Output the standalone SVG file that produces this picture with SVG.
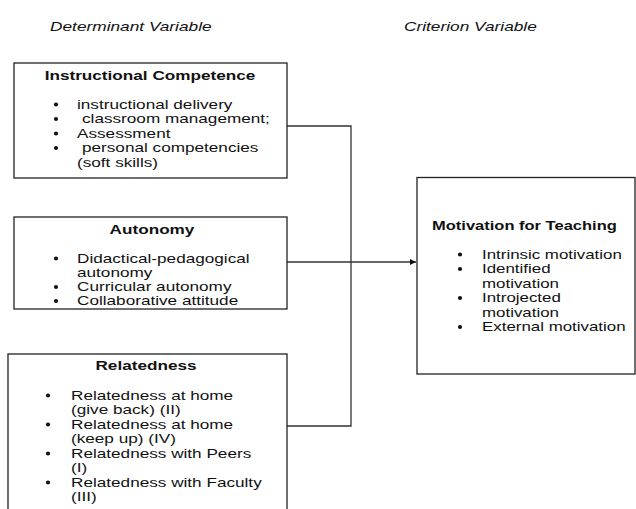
<svg xmlns="http://www.w3.org/2000/svg" width="636" height="509" viewBox="0 0 636 509">
<style>
.bx{fill:#fff;stroke:#222;stroke-width:1.3}
.ln{fill:none;stroke:#333;stroke-width:1.3}
text{font-family:"Liberation Sans",Arial,sans-serif;font-size:13px;fill:#111}
.h{font-style:italic}
.b{font-weight:bold}
.m{text-anchor:middle}
.dot{fill:#111}
</style>
<defs>
<marker id="arr" viewBox="0 0 10 10" refX="10" refY="5" markerWidth="8" markerHeight="6" markerUnits="userSpaceOnUse" orient="auto">
<path d="M0,0 L10,5 L0,10 z" fill="#111"/>
</marker>
</defs>
<rect width="636" height="509" fill="#fff"/>
<g id="headers">
<text class="h" transform="translate(50 31) scale(1.33 1)">Determinant Variable</text>
<text class="h" transform="translate(404 31) scale(1.33 1)">Criterion Variable</text>
</g>
<g id="connectors">
<polyline class="ln" points="287,126 351,126 351,426 287,426"/>
<line class="ln" x1="287" y1="262" x2="416" y2="262" marker-end="url(#arr)"/>
</g>
<g id="instructional-competence">
<rect class="bx" x="14" y="63" width="273" height="115"/>
<text class="b m" transform="translate(150 80) scale(1.32 1)">Instructional Competence</text>
<circle class="dot" cx="56" cy="104.5" r="2.1"/>
<circle class="dot" cx="56" cy="119" r="2.1"/>
<circle class="dot" cx="56" cy="133.5" r="2.1"/>
<circle class="dot" cx="56" cy="148" r="2.1"/>
<text transform="translate(77 108.5) scale(1.32 1)">instructional delivery</text>
<text transform="translate(82 123) scale(1.32 1)">classroom management;</text>
<text transform="translate(77 137.5) scale(1.32 1)">Assessment</text>
<text transform="translate(82 152) scale(1.32 1)">personal competencies</text>
<text transform="translate(77 166.5) scale(1.32 1)">(soft skills)</text>
</g>
<g id="autonomy">
<rect class="bx" x="14" y="217" width="273" height="92"/>
<text class="b m" transform="translate(152 234) scale(1.32 1)">Autonomy</text>
<circle class="dot" cx="56" cy="258.5" r="2.1"/>
<circle class="dot" cx="56" cy="287" r="2.1"/>
<circle class="dot" cx="56" cy="301" r="2.1"/>
<text transform="translate(77 262.5) scale(1.32 1)">Didactical-pedagogical</text>
<text transform="translate(77 276.5) scale(1.32 1)">autonomy</text>
<text transform="translate(77 291) scale(1.32 1)">Curricular autonomy</text>
<text transform="translate(77 305) scale(1.32 1)">Collaborative attitude</text>
</g>
<g id="relatedness">
<rect class="bx" x="8" y="354" width="279" height="170"/>
<text class="b m" transform="translate(146 370) scale(1.32 1)">Relatedness</text>
<circle class="dot" cx="48" cy="395.5" r="2.1"/>
<circle class="dot" cx="48" cy="424.5" r="2.1"/>
<circle class="dot" cx="48" cy="453.5" r="2.1"/>
<circle class="dot" cx="48" cy="482.5" r="2.1"/>
<text transform="translate(71 399.5) scale(1.32 1)">Relatedness at home</text>
<text transform="translate(71 414) scale(1.32 1)">(give back) (II)</text>
<text transform="translate(71 428.5) scale(1.32 1)">Relatedness at home</text>
<text transform="translate(71 443) scale(1.32 1)">(keep up) (IV)</text>
<text transform="translate(71 457.5) scale(1.32 1)">Relatedness with Peers</text>
<text transform="translate(71 472) scale(1.32 1)">(I)</text>
<text transform="translate(71 486.5) scale(1.32 1)">Relatedness with Faculty</text>
<text transform="translate(71 501) scale(1.32 1)">(III)</text>
</g>
<g id="motivation-for-teaching">
<rect class="bx" x="417" y="177.5" width="218" height="196.5"/>
<text class="b" transform="translate(432 230) scale(1.27 1)">Motivation for Teaching</text>
<circle class="dot" cx="460" cy="254.5" r="2.1"/>
<circle class="dot" cx="460" cy="269" r="2.1"/>
<circle class="dot" cx="460" cy="298" r="2.1"/>
<circle class="dot" cx="460" cy="327" r="2.1"/>
<text transform="translate(482 258.5) scale(1.3 1)">Intrinsic motivation</text>
<text transform="translate(482 273) scale(1.3 1)">Identified</text>
<text transform="translate(482 287.5) scale(1.3 1)">motivation</text>
<text transform="translate(482 302) scale(1.3 1)">Introjected</text>
<text transform="translate(482 316.5) scale(1.3 1)">motivation</text>
<text transform="translate(482 331) scale(1.3 1)">External motivation</text>
</g>
</svg>
